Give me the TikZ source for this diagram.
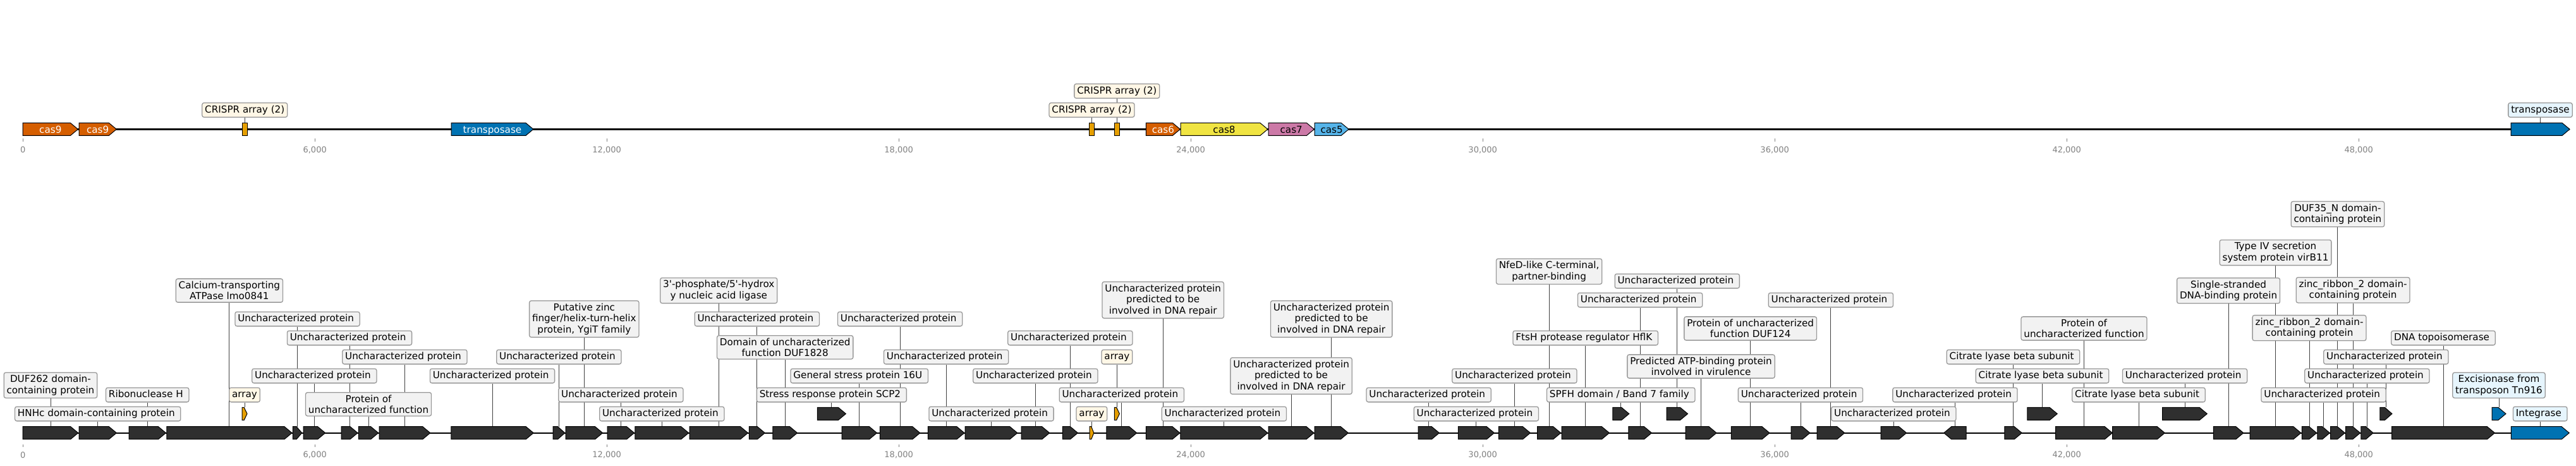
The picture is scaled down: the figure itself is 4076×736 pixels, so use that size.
\documentclass[tikz,border=0pt]{standalone}
\usepackage{fontspec}
\setmainfont{DejaVu Sans}
\usetikzlibrary{calc}
\pgfdeclarelayer{back}
\pgfsetlayers{back,main}

\definecolor{vermil}{HTML}{D55E00}
\definecolor{okyellow}{HTML}{F0E442}
\definecolor{okpink}{HTML}{CC79A7}
\definecolor{oksky}{HTML}{56B4E9}
\definecolor{okblue}{HTML}{0072B2}
\definecolor{okorange}{HTML}{E69F00}
\definecolor{genedark}{HTML}{2F2F2F}
\definecolor{lblfill}{HTML}{F2F2F2}
\definecolor{lbledge}{HTML}{999999}
\definecolor{arrfill}{HTML}{FFF7E6}
\definecolor{mobfill}{HTML}{E6F5FD}
\definecolor{leadgray}{HTML}{404040}
\definecolor{tickgray}{HTML}{808080}

\newcommand{\lblfont}{\fontsize{15.2}{17.5}\selectfont}
\newcommand{\tickfont}{\fontsize{13}{15}\selectfont}
\newcommand{\laneT}{204.4}
\newcommand{\laneM}{684.7}
\newcommand{\laneU}{654.4}

% gene arrows: name, start, end, lane, fill
\newcommand{\fwd}[5]{%
  \pgfmathsetmacro{\ghead}{min(12,0.6*(#3-#2))}%
  \draw[gene, fill=#5] (#2,#4-10) -- (#3-\ghead,#4-10) -- (#3,#4) -- (#3-\ghead,#4+10) -- (#2,#4+10) -- cycle;
  \coordinate (#1) at ({(#2+#3)/2},#4-10);}
\newcommand{\rev}[5]{%
  \pgfmathsetmacro{\ghead}{min(12,0.6*(#3-#2))}%
  \draw[gene, fill=#5] (#3,#4-10) -- (#2+\ghead,#4-10) -- (#2,#4) -- (#2+\ghead,#4+10) -- (#3,#4+10) -- cycle;
  \coordinate (#1) at ({(#2+#3)/2},#4-10);}
\newcommand{\crispr}[3]{%
  \draw[gene, fill=okorange] (#2,\laneT-10) rectangle (#3,\laneT+10);
  \coordinate (#1) at ({(#2+#3)/2},\laneT-10);}

\begin{document}
\begin{tikzpicture}[x=1pt, y=-1pt,
    gene/.style={draw=black, line width=1pt},
    lbl/.style={draw=lbledge, fill=lblfill, rounded corners=3pt, line width=1.3pt, inner xsep=4.4pt, inner ysep=4pt, font=\lblfont},
    one/.style={lbl, text height=11.5pt, text depth=3.2pt, execute at end node={\hspace{4.8pt}}},
    two/.style={lbl, align=center},
    arrlbl/.style={lbl, fill=arrfill, text height=11.5pt, text depth=3.2pt},
    intext/.style={font=\lblfont, inner sep=0pt, anchor=base},
    lead/.style={draw=leadgray, line width=0.9pt},
    axis/.style={draw=black, line width=2.2pt},
    tickmark/.style={draw=tickgray, line width=1pt},
    ticklbl/.style={font=\tickfont, text=tickgray, inner sep=0pt}]
  \useasboundingbox (0,0) rectangle (4076,736);

  % Top track
  \fwd{tc9a}{36.2}{123.4}{\laneT}{vermil}
  \fwd{tc9b}{125.1}{184.3}{\laneT}{vermil}
  \crispr{ta1}{383.5}{391}
  \fwd{tt1}{714.1}{843.9}{\laneT}{okblue}
  \crispr{ta2}{1723.9}{1731.1}
  \crispr{ta3}{1763.3}{1771.3}
  \fwd{tc6}{1813.4}{1867.4}{\laneT}{vermil}
  \fwd{tc8}{1868.1}{2005.9}{\laneT}{okyellow}
  \fwd{tc7}{2007}{2079.4}{\laneT}{okpink}
  \fwd{tc5}{2080.2}{2134.1}{\laneT}{oksky}
  \fwd{tt2}{3973}{4066}{\laneT}{okblue}

  \node[intext, text=white] (ntc9a) at ($(tc9a)+(0,16)$) {cas9};
  \node[intext, text=white] (ntc9b) at ($(tc9b)+(0,16)$) {cas9};
  \node[intext, text=white] (ntt1) at ($(tt1)+(0,16)$) {transposase};
  \node[intext, text=white] (ntc6) at ($(tc6)+(0,16)$) {cas6};
  \node[intext] (ntc8) at ($(tc8)+(0,16)$) {cas8};
  \node[intext] (ntc7) at ($(tc7)+(0,16)$) {cas7};
  \node[intext] (ntc5) at ($(tc5)+(0,16)$) {cas5};

  \node[arrlbl] (lta1) at (ta1 |- 0,174) {CRISPR array (2)};
  \node[arrlbl] (lta2) at (ta2 |- 0,174) {CRISPR array (2)};
  \node[arrlbl] (lta3) at (ta3 |- 0,144) {CRISPR array (2)};
  \node[lbl, fill=mobfill, text height=11.5pt, text depth=3.2pt] (ltt2) at (tt2 |- 0,174) {transposase};

  % Bottom track, main lane
  \fwd{g1}{36.2}{123.7}{\laneM}{genedark}
  \fwd{g2}{125}{184.4}{\laneM}{genedark}
  \fwd{g3}{204}{262.5}{\laneM}{genedark}
  \fwd{g4}{263.8}{462}{\laneM}{genedark}
  \fwd{g5}{463.4}{477.7}{\laneM}{genedark}
  \fwd{g6}{480}{514.7}{\laneM}{genedark}
  \fwd{g7}{540}{566}{\laneM}{genedark}
  \fwd{g8}{567.4}{598.7}{\laneM}{genedark}
  \fwd{g9}{600}{680.8}{\laneM}{genedark}
  \fwd{g10}{713.8}{844.2}{\laneM}{genedark}
  \fwd{g11}{875}{893.8}{\laneM}{genedark}
  \fwd{g12}{895}{953.6}{\laneM}{genedark}
  \fwd{g13}{961.2}{1003.6}{\laneM}{genedark}
  \fwd{g14}{1004.9}{1089.7}{\laneM}{genedark}
  \fwd{g15}{1091}{1183.5}{\laneM}{genedark}
  \fwd{g16}{1185.3}{1210.3}{\laneM}{genedark}
  \fwd{g17}{1222.8}{1261.6}{\laneM}{genedark}
  \fwd{g18}{1332}{1387.5}{\laneM}{genedark}
  \fwd{g19}{1392.4}{1455.8}{\laneM}{genedark}
  \fwd{g20}{1468.3}{1525.9}{\laneM}{genedark}
  \fwd{g21}{1527.2}{1609.8}{\laneM}{genedark}
  \fwd{g22}{1616}{1660.7}{\laneM}{genedark}
  \fwd{g23}{1681.3}{1705.4}{\laneM}{genedark}
  \fwd{a2}{1724}{1730.8}{\laneM}{okorange}
  \fwd{g24}{1750.9}{1798.7}{\laneM}{genedark}
  \fwd{g25}{1813.4}{1867}{\laneM}{genedark}
  \fwd{g26}{1867.9}{2005.8}{\laneM}{genedark}
  \fwd{g27}{2007.1}{2079}{\laneM}{genedark}
  \fwd{g28}{2080}{2133.3}{\laneM}{genedark}
  \fwd{g29}{2244}{2277.3}{\laneM}{genedark}
  \fwd{g30}{2307.3}{2364.3}{\laneM}{genedark}
  \fwd{g31}{2371.4}{2421.4}{\laneM}{genedark}
  \fwd{g32}{2432.6}{2469.6}{\laneM}{genedark}
  \fwd{g33}{2471}{2546.4}{\laneM}{genedark}
  \fwd{g34}{2576.8}{2613.4}{\laneM}{genedark}
  \fwd{g35}{2667}{2716}{\laneM}{genedark}
  \fwd{g36}{2739.3}{2800}{\laneM}{genedark}
  \fwd{g37}{2834}{2863.9}{\laneM}{genedark}
  \fwd{g38}{2875.1}{2918.7}{\laneM}{genedark}
  \fwd{g39}{2976}{3016.6}{\laneM}{genedark}
  \rev{g40}{3075.7}{3111.2}{\laneM}{genedark}
  \fwd{g41}{3171.8}{3199.2}{\laneM}{genedark}
  \fwd{g42}{3252.7}{3342.3}{\laneM}{genedark}
  \fwd{g43}{3342.7}{3425.3}{\laneM}{genedark}
  \fwd{g44}{3502.3}{3549.8}{\laneM}{genedark}
  \fwd{g45}{3560.2}{3640.8}{\laneM}{genedark}
  \fwd{g46}{3642.4}{3665.6}{\laneM}{genedark}
  \fwd{g47}{3666.8}{3686.3}{\laneM}{genedark}
  \fwd{g48}{3687.5}{3710.3}{\laneM}{genedark}
  \fwd{g49}{3711.5}{3734.6}{\laneM}{genedark}
  \fwd{g50}{3735.8}{3755}{\laneM}{genedark}
  \fwd{g51}{3784.5}{3947.4}{\laneM}{genedark}
  \fwd{g52}{3973.3}{4065.2}{\laneM}{okblue}

  % Bottom track, upper lane
  \fwd{a1}{383}{391}{\laneU}{okorange}
  \fwd{u2}{1293.3}{1338.4}{\laneU}{genedark}
  \fwd{a3}{1763.4}{1771.4}{\laneU}{okorange}
  \fwd{u4}{2551.8}{2577.7}{\laneU}{genedark}
  \fwd{u5}{2637}{2670.5}{\laneU}{genedark}
  \fwd{u6}{3207.9}{3255.2}{\laneU}{genedark}
  \fwd{u7}{3421.7}{3492.3}{\laneU}{genedark}
  \fwd{u8}{3765.8}{3784.9}{\laneU}{genedark}
  \fwd{u9}{3943}{3965}{\laneU}{okblue}

  % Labels
  \node[two] (l1) at (g1 |- 0,609.3) {DUF262 domain-\\containing protein};
  \node[one] (l2) at (g2 |- 0,654.5) {HNHc domain-containing protein};
  \node[one] (l3) at (g3 |- 0,624.5) {Ribonuclease H};
  \node[two] (l4) at (g4 |- 0,459.5) {Calcium-transporting\\ATPase lmo0841};
  \node[arrlbl] (la1) at (a1 |- 0,624.5) {array};
  \node[one] (l5) at (g5 |- 0,504.5) {Uncharacterized protein};
  \node[one] (l6) at (g6 |- 0,594.5) {Uncharacterized protein};
  \node[one] (l7) at (g7 |- 0,534.5) {Uncharacterized protein};
  \node[two] (l8) at (g8 |- 0,639.3) {Protein of\\uncharacterized function};
  \node[one] (l9) at (g9 |- 0,564.5) {Uncharacterized protein};
  \node[one] (l10) at (g10 |- 0,594.5) {Uncharacterized protein};
  \node[one] (l11) at (g11 |- 0,564.5) {Uncharacterized protein};
  \node[two] (l12) at (g12 |- 0,504.5) {Putative zinc\\finger/helix-turn-helix\\protein, YgiT family};
  \node[one] (l13) at (g13 |- 0,624.5) {Uncharacterized protein};
  \node[one] (l14) at (g14 |- 0,654.5) {Uncharacterized protein};
  \node[two] (l15) at (g15 |- 0,459.5) {3\textquotesingle-phosphate/5\textquotesingle-hydrox\\y nucleic acid ligase};
  \node[one] (l16) at (g16 |- 0,504.5) {Uncharacterized protein};
  \node[two] (l17) at (g17 |- 0,549.3) {Domain of uncharacterized\\function DUF1828};
  \node[one] (lu2) at (u2 |- 0,624.5) {Stress response protein SCP2};
  \node[one] (l18) at (g18 |- 0,594.5) {General stress protein 16U};
  \node[one] (l19) at (g19 |- 0,504.5) {Uncharacterized protein};
  \node[one] (l20) at (g20 |- 0,564.5) {Uncharacterized protein};
  \node[one] (l21) at (g21 |- 0,654.5) {Uncharacterized protein};
  \node[one] (l22) at (g22 |- 0,594.5) {Uncharacterized protein};
  \node[one] (l23) at (g23 |- 0,534.5) {Uncharacterized protein};
  \node[arrlbl] (la2) at (a2 |- 0,654.5) {array};
  \node[arrlbl] (la3) at (a3 |- 0,564.5) {array};
  \node[one] (l24) at (g24 |- 0,624.5) {Uncharacterized protein};
  \node[two] (l25) at (g25 |- 0,474.5) {Uncharacterized protein\\predicted to be\\involved in DNA repair};
  \node[one] (l26) at (g26 |- 0,654.5) {Uncharacterized protein};
  \node[two] (l27) at (g27 |- 0,594.5) {Uncharacterized protein\\predicted to be\\involved in DNA repair};
  \node[two] (l28) at (g28 |- 0,504.5) {Uncharacterized protein\\predicted to be\\involved in DNA repair};
  \node[one] (l29) at (g29 |- 0,624.5) {Uncharacterized protein};
  \node[one] (l30) at (g30 |- 0,654.5) {Uncharacterized protein};
  \node[one] (l31) at (g31 |- 0,594.5) {Uncharacterized protein};
  \node[two] (l32) at (g32 |- 0,429.3) {NfeD-like C-terminal,\\partner-binding};
  \node[one] (l33) at (g33 |- 0,534.5) {FtsH protease regulator HflK};
  \node[one] (lu4) at (u4 |- 0,624.5) {SPFH domain / Band 7 family};
  \node[one] (l34) at (g34 |- 0,474.5) {Uncharacterized protein};
  \node[one] (lu5) at (u5 |- 0,444.5) {Uncharacterized protein};
  \node[two] (l35) at (g35 |- 0,579.5) {Predicted ATP-binding protein\\involved in virulence};
  \node[two] (l36) at (g36 |- 0,519.5) {Protein of uncharacterized\\function DUF124};
  \node[one] (l37) at (g37 |- 0,624.5) {Uncharacterized protein};
  \node[one] (l38) at (g38 |- 0,474.5) {Uncharacterized protein};
  \node[one] (l39) at (g39 |- 0,654.5) {Uncharacterized protein};
  \node[one] (l40) at (g40 |- 0,624.5) {Uncharacterized protein};
  \node[one] (l41) at (g41 |- 0,564.5) {Citrate lyase beta subunit};
  \node[one] (lu6) at (u6 |- 0,594.5) {Citrate lyase beta subunit};
  \node[two] (l42) at (g42 |- 0,519.5) {Protein of\\uncharacterized function};
  \node[one] (l43) at (g43 |- 0,624.5) {Citrate lyase beta subunit};
  \node[one] (lu7) at (u7 |- 0,594.5) {Uncharacterized protein};
  \node[two] (l44) at (g44 |- 0,459.7) {Single-stranded\\DNA-binding protein};
  \node[two] (l45) at (g45 |- 0,399.5) {Type IV secretion\\system protein virB11};
  \node[two] (l46) at (g46 |- 0,518.7) {zinc\_ribbon\_2 domain-\\containing protein};
  \node[one] (l47) at (g47 |- 0,624.5) {Uncharacterized protein};
  \node[two] (l48) at (g48 |- 0,338.7) {DUF35\_N domain-\\containing protein};
  \node[two] (l49) at (g49 |- 0,458.8) {zinc\_ribbon\_2 domain-\\containing protein};
  \node[one] (l50) at (g50 |- 0,594.5) {Uncharacterized protein};
  \node[one] (lu8) at (u8 |- 0,564.5) {Uncharacterized protein};
  \node[one] (l51) at (g51 |- 0,534.5) {DNA topoisomerase};
  \node[two, fill=mobfill] (lu9) at (u9 |- 0,609.3) {Excisionase from\\transposon Tn916};
  \node[one, fill=mobfill] (l52) at (g52 |- 0,654.5) {Integrase};

  % Axis ticks
  \foreach \xx/\t [count=\i] in {36.2/0, 498.2/{6,000}, 960.2/{12,000}, 1422.2/{18,000}, 1884.2/{24,000}, 2346.2/{30,000}, 2808.2/{36,000}, 3270.2/{42,000}, 3732.2/{48,000}} {
    \draw[tickmark] (\xx,219) -- (\xx,224);
    \node[ticklbl] (tktop\i) at (\xx,237) {\t};
    \draw[tickmark] (\xx,702.7) -- (\xx,707.3);
    \node[ticklbl] (tkbot\i) at (\xx,719.5) {\t};
  }

  % Backbones and leader lines
  \begin{pgfonlayer}{back}
    \coordinate (topstart) at (36.2,\laneT);
    \coordinate (topend) at (4066,\laneT);
    \coordinate (botstart) at (36.2,\laneM);
    \coordinate (botend) at (4065,\laneM);
    \draw[axis] (topstart) -- (topend);
    \draw[axis] (botstart) -- (botend);
    \foreach \g/\l in {ta1/lta1, ta2/lta2, ta3/lta3, tt2/ltt2,
        g1/l1, g2/l2, g3/l3, g4/l4, a1/la1, g5/l5, g6/l6, g7/l7, g8/l8, g9/l9,
        g10/l10, g11/l11, g12/l12, g13/l13, g14/l14, g15/l15, g16/l16, g17/l17,
        u2/lu2, g18/l18, g19/l19, g20/l20, g21/l21, g22/l22, g23/l23, a2/la2,
        a3/la3, g24/l24, g25/l25, g26/l26, g27/l27, g28/l28, g29/l29, g30/l30,
        g31/l31, g32/l32, g33/l33, u4/lu4, g34/l34, u5/lu5, g35/l35, g36/l36,
        g37/l37, g38/l38, g39/l39, g40/l40, g41/l41, u6/lu6, g42/l42, g43/l43,
        u7/lu7, g44/l44, g45/l45, g46/l46, g47/l47, g48/l48, g49/l49, g50/l50,
        u8/lu8, g51/l51, u9/lu9, g52/l52}
      \draw[lead] (\g) -- (\g |- \l.south);
  \end{pgfonlayer}
\end{tikzpicture}
\end{document}
